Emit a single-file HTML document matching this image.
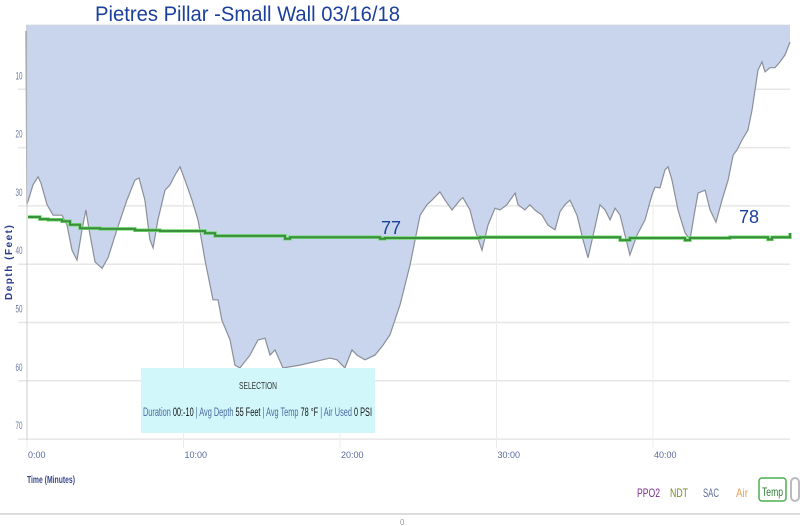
<!DOCTYPE html>
<html><head><meta charset="utf-8"><style>
html,body{margin:0;padding:0;background:#fff;}
svg{display:block;font-family:"Liberation Sans",sans-serif;}
</style></head><body>
<svg id="chart" width="800" height="526" viewBox="0 0 800 526">
<text x="95" y="21" font-size="21" fill="#1b3f9c" textLength="305" lengthAdjust="spacingAndGlyphs">Pietres Pillar -Small Wall 03/16/18</text>
<g id="grid"></g>
<g id="area"></g>
<g id="temp"></g>
<g id="yaxis"></g>
<g id="xaxis"></g>
<text x="0" y="0" transform="translate(12,300) rotate(-90)" font-size="10" font-weight="bold" fill="#2a3c8a" letter-spacing="1.5">Depth (Feet)</text>
<text x="27" y="483" font-size="10" font-weight="bold" fill="#3a4a8a" textLength="48" lengthAdjust="spacingAndGlyphs">Time (Minutes)</text>
<text x="381" y="234" font-size="18" fill="#1b3f9c">77</text>
<text x="739" y="223" font-size="18" fill="#1b3f9c">78</text>
<g>
<rect x="141" y="368" width="234" height="65" fill="#d2f7fa"/>
<text x="258" y="389" font-size="10" text-anchor="middle" fill="#333" textLength="38" lengthAdjust="spacingAndGlyphs">SELECTION</text>
<text x="143" y="416" font-size="11.5" fill="#4a6aa0" textLength="229" lengthAdjust="spacingAndGlyphs">Duration <tspan fill="#111">00:-10</tspan> | Avg Depth <tspan fill="#111">55 Feet</tspan> | Avg Temp <tspan fill="#111">78 °F</tspan> | Air Used <tspan fill="#111">0 PSI</tspan></text>
</g>
<g>
<text x="637" y="497" font-size="12" fill="#7a2a8a" textLength="23" lengthAdjust="spacingAndGlyphs">PPO2</text>
<text x="670" y="497" font-size="12" fill="#7a8a2a" textLength="18" lengthAdjust="spacingAndGlyphs">NDT</text>
<text x="703" y="497" font-size="12" fill="#5a6a9a" textLength="16" lengthAdjust="spacingAndGlyphs">SAC</text>
<text x="736" y="497" font-size="12" fill="#e8a050" textLength="12" lengthAdjust="spacingAndGlyphs">Air</text>
<rect x="759" y="478" width="27" height="23" rx="3" fill="none" stroke="#4caf50" stroke-width="1.5"/>
<text x="762" y="496" font-size="12" fill="#2e7d32" textLength="21" lengthAdjust="spacingAndGlyphs">Temp</text>
<rect x="791" y="478" width="8" height="23" rx="4" fill="none" stroke="#bbb" stroke-width="2"/>
</g>
<line x1="0" y1="514" x2="800" y2="514" stroke="#ddd" stroke-width="2"/>
<text x="400" y="525" font-size="8" fill="#999">0</text>
</svg>
<script>
const depthTimes=[0,0.06,0.45,0.77,0.96,1.34,1.73,2.30,2.62,2.94,3.26,3.58,3.83,4.03,4.41,4.86,5.24,5.81,6.45,6.96,7.22,7.60,7.92,8.12,8.43,8.88,9.20,9.52,9.84,10.16,10.61,10.99,11.44,11.95,12.27,12.52,13.04,13.35,13.67,14.31,14.82,15.27,15.59,15.91,16.42,17.51,19.42,19.87,20.38,20.83,21.15,21.66,22.30,22.81,23.26,23.90,24.54,24.86,25.18,25.62,25.94,26.45,26.77,27.22,27.73,27.92,28.37,28.69,29.14,29.52,29.97,30.29,30.73,30.93,31.25,31.44,31.88,32.20,32.52,32.97,33.35,33.80,34.12,34.44,34.76,35.21,35.59,35.91,36.17,36.68,37.00,37.32,37.64,37.96,38.59,39.04,39.55,40.00,40.19,40.51,40.83,41.02,41.28,41.66,42.11,42.43,42.75,42.94,43.39,43.71,44.09,44.47,44.86,45.18,45.43,45.75,46.13,46.39,46.77,47.03,47.22,47.54,47.86,48.18,48.50,48.82];
const depthFeet=[0,29.8,26.4,25.0,26.1,29.8,31.6,31.6,33.3,37.6,39.3,34.1,30.7,34.1,39.6,40.7,38.9,34.1,29.0,25.6,25.2,29.0,35.8,37.2,32.4,27.3,26.4,24.7,23.3,25.6,29.0,32.4,39.3,46.1,46.1,49.6,53.0,57.3,57.8,55.6,53.0,52.7,55.6,54.7,57.8,57.3,56.1,56.4,57.8,54.7,55.6,56.4,55.6,53.9,52.1,47.0,40.1,35.8,31.6,29.8,29.0,27.6,29.0,30.7,29.0,28.6,30.7,34.1,37.6,33.3,30.4,30.7,29.8,29.0,27.8,29.8,30.7,29.8,30.7,31.6,33.3,34.1,31.0,29.8,29.0,31.6,35.8,38.9,35.8,29.8,30.7,32.4,30.4,31.6,38.4,35.0,32.4,28.1,26.8,26.9,23.8,23.3,25.6,30.7,34.6,35.8,30.7,27.8,27.3,30.7,32.8,29.0,25.6,21.3,20.4,18.7,17.0,13.6,6.7,5.3,7.0,6.3,6.3,5.3,4.1,1.9];
const tempTimes=[0.13,0.89,1.41,2.30,2.81,3.45,4.73,6.96,8.56,11.44,12.08,16.23,16.55,16.87,22.30,22.62,22.94,29.0,37.96,38.59,41.79,42.11,42.43,44.98,47.22,47.41,47.67,48.82];
const tempF=[80.0,79.7,79.6,79.4,78.9,78.4,78.3,78.1,78.0,77.7,77.3,77.3,76.9,77.1,77.1,76.9,77.0,77.1,76.7,77.0,77.0,76.7,77.0,77.1,77.1,76.8,77.1,77.7];
const yTicks=[10,20,30,40,50,60,70];
const xTicks=[0,10,20,30,40];
const xTickLabels=["0:00","10:00","20:00","30:00","40:00"];

const NS="http://www.w3.org/2000/svg";
const X0=26, X1=790, TOP=25, BOT=440;
const xs=t=>X0+t*15.65;
const ys=d=>31+d*5.83;
const ts=T=>238-(T-77)*7;
function mk(tag,attrs,parent){const e=document.createElementNS(NS,tag);for(const k in attrs)e.setAttribute(k,attrs[k]);parent.appendChild(e);return e;}
const grid=document.getElementById('grid');
const yaxis=document.getElementById('yaxis');
const xaxis=document.getElementById('xaxis');
yTicks.forEach(v=>{
  const g=mk('line',{x1:X0-8,x2:X1,y1:ys(v),y2:ys(v),stroke:'#e6e6e6','stroke-width':1.5},grid);
  
  
  const t=mk('text',{x:19,y:ys(v)-10,'font-size':11,'text-anchor':'middle',fill:'#6a7aa0',textLength:7,lengthAdjust:'spacingAndGlyphs'},yaxis);
  t.textContent=v;
  
  
});
xTicks.forEach((v,i)=>{
  const g=mk('line',{x1:xs(v)+1,x2:xs(v)+1,y1:TOP,y2:BOT+8,stroke:'#ececec','stroke-width':1},grid);
  
  
  const t=mk('text',{x:xs(v)+2,y:458,'font-size':9,fill:'#5a6aa0'},xaxis);
  t.textContent=xTickLabels[i];
  
  
});
const border=mk('line',{x1:X0,x2:X1,y1:TOP,y2:TOP,stroke:'#e0e0e0','stroke-width':1},grid);


const area=document.getElementById('area');
let pts=depthTimes.map((t,i)=>`${xs(t).toFixed(1)},${ys(depthFeet[i]).toFixed(1)}`);
const fill=mk('polygon',{points:`${X0},${TOP} ${pts.join(' ')} ${X1},${TOP}`,fill:'#c9d5ed'},area);


const line=mk('polyline',{points:pts.join(' '),fill:'none',stroke:'#8a8f99','stroke-width':1.2},area);


const al=mk('line',{x1:X0+1,x2:X0+1,y1:TOP,y2:BOT,stroke:'#ccc','stroke-width':1},area);


const temp=document.getElementById('temp');
let tp=[];
tempTimes.forEach((t,i)=>{
  if(i>0)tp.push(`${xs(t).toFixed(1)},${ts(tempF[i-1]).toFixed(1)}`);
  tp.push(`${xs(t).toFixed(1)},${ts(tempF[i]).toFixed(1)}`);
});
const tl2=mk('polyline',{points:tp.join(' '),fill:'none',stroke:'#6fd86f','stroke-width':3.5},temp);


const tl=mk('polyline',{points:tp.join(' '),fill:'none',stroke:'#3a8f3a','stroke-width':2},temp);


</script>
</body></html>
